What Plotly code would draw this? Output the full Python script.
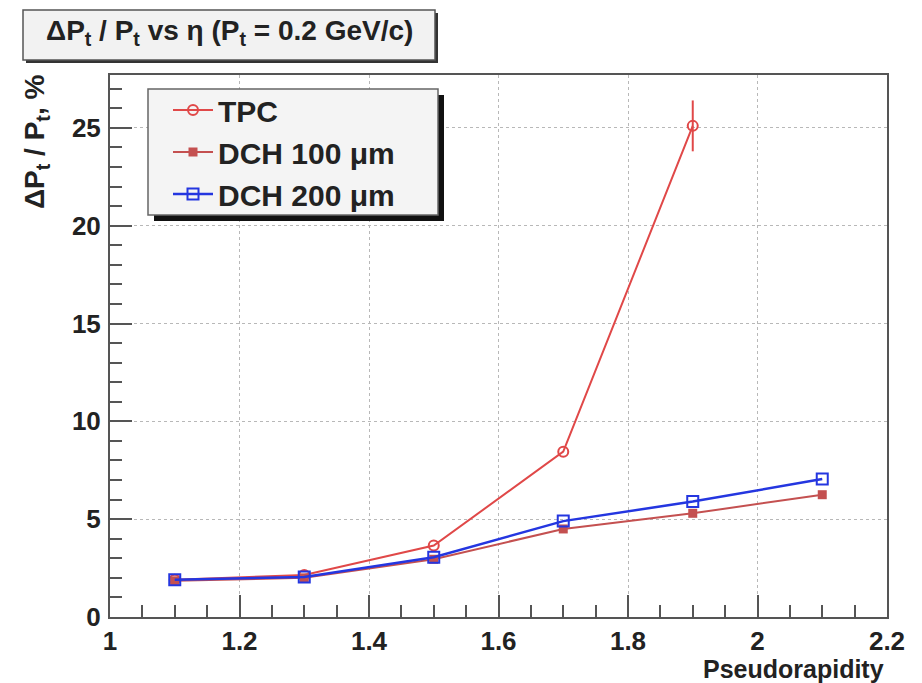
import plotly.graph_objects as go

# Pseudorapidity bins and relative transverse-momentum resolution (%)
eta_tpc = [1.1, 1.3, 1.5, 1.7, 1.9]
res_tpc = [1.9, 2.15, 3.65, 8.45, 25.1]
err_tpc = [0.0, 0.0, 0.0, 0.0, 1.3]

eta_dch = [1.1, 1.3, 1.5, 1.7, 1.9, 2.1]
res_dch100 = [1.85, 2.0, 2.95, 4.5, 5.3, 6.25]
res_dch200 = [1.9, 2.05, 3.05, 4.9, 5.9, 7.05]

series_names = ["TPC", "DCH 100 \u03bcm", "DCH 200 \u03bcm"]

W, H = 922, 683
L, R, T, B = 110, 887, 75, 617  # plot-area edges in pixels


def px(x):
    return (x - L) / (R - L)


def py(y):
    return (B - y) / (B - T)


FONT = "Liberation Sans, Arial, Helvetica, sans-serif"
INK = "#222222"
RED = "#e04848"
BROWN = "#c45050"
BLUE = "#2436e0"

fig = go.Figure()

fig.add_trace(go.Scatter(
    x=eta_tpc, y=res_tpc, name=series_names[0], mode="lines+markers",
    line=dict(color=RED, width=2),
    marker=dict(symbol="circle-open", size=10, color=RED, line=dict(width=2)),
    error_y=dict(type="data", array=err_tpc, visible=True, color=RED,
                 thickness=2, width=0),
))
fig.add_trace(go.Scatter(
    x=eta_dch, y=res_dch100, name=series_names[1], mode="lines+markers",
    line=dict(color=BROWN, width=2),
    marker=dict(symbol="square", size=9, color=BROWN),
))
fig.add_trace(go.Scatter(
    x=eta_dch, y=res_dch200, name=series_names[2], mode="lines+markers",
    line=dict(color=BLUE, width=2.5),
    marker=dict(symbol="square-open", size=11, color=BLUE, line=dict(width=2)),
))

axis_common = dict(
    showline=True, linecolor="#555555", linewidth=2, mirror=True,
    ticks="inside", ticklen=22, tickwidth=1.5, tickcolor="#555555",
    showgrid=True, gridcolor="#b8b8b8", griddash="dot", gridwidth=1,
    zeroline=False,
    tickfont=dict(family=FONT, size=26, color=INK, weight="bold"),
)

fig.update_xaxes(
    range=[1.0, 2.2], dtick=0.2, tick0=1.0,
    minor=dict(dtick=0.05, ticks="inside", ticklen=12, tickcolor="#555555",
               tickwidth=1.5, showgrid=False),
    ticklabelstandoff=0,
    **axis_common,
)
fig.update_yaxes(
    range=[0, 27.7], dtick=5, tick0=0,
    minor=dict(dtick=1, ticks="inside", ticklen=12, tickcolor="#555555",
               tickwidth=1.5, showgrid=False),
    ticklabelstandoff=2,
    **axis_common,
)

shapes = []
# title box with drop shadow
shapes.append(dict(type="rect", xref="paper", yref="paper",
                   x0=px(26), x1=px(438), y0=py(63), y1=py(13),
                   fillcolor="#333333", line=dict(width=0), layer="above"))
shapes.append(dict(type="rect", xref="paper", yref="paper",
                   x0=px(23), x1=px(435), y0=py(60), y1=py(10),
                   fillcolor="#f2f2f2", line=dict(color="#555555", width=1.5),
                   layer="above"))
# legend box with drop shadow
shapes.append(dict(type="rect", xref="paper", yref="paper",
                   x0=px(154), x1=px(444), y0=py(221), y1=py(95),
                   fillcolor="#111111", line=dict(width=0), layer="above"))
shapes.append(dict(type="rect", xref="paper", yref="paper",
                   x0=px(148), x1=px(438), y0=py(215), y1=py(89),
                   fillcolor="#f4f4f4", line=dict(color="#666666", width=1.5),
                   layer="above"))

annotations = [
    dict(text="\u0394P<sub>t</sub> / P<sub>t</sub> vs \u03b7 (P<sub>t</sub> = 0.2 GeV/c)",
         xref="paper", yref="paper", x=px(229), y=py(33),
         xanchor="center", yanchor="middle", showarrow=False,
         font=dict(family=FONT, size=28, color=INK, weight="bold")),
    dict(text="\u0394P<sub>t</sub> / P<sub>t</sub>, %",
         xref="paper", yref="paper", x=px(36), y=py(73),
         xanchor="center", yanchor="top", textangle=-90, showarrow=False,
         font=dict(family=FONT, size=28, color=INK, weight="bold")),
    dict(text="Pseudorapidity",
         xref="paper", yref="paper", x=px(886), y=py(669),
         xanchor="right", yanchor="middle", showarrow=False,
         font=dict(family=FONT, size=25, color=INK, weight="bold")),
]

fig.update_layout(
    width=W, height=H,
    margin=dict(l=L, r=W - R, t=T, b=H - B, pad=0),
    paper_bgcolor="white", plot_bgcolor="white",
    showlegend=True,
    legend=dict(x=px(168), y=py(84), xanchor="left", yanchor="top",
                bgcolor="rgba(0,0,0,0)", borderwidth=0,
                font=dict(family=FONT, size=30, color=INK, weight="bold"),
                itemwidth=40, tracegroupgap=0),
    shapes=shapes,
    annotations=annotations,
)

fig.write_html("out.html")
